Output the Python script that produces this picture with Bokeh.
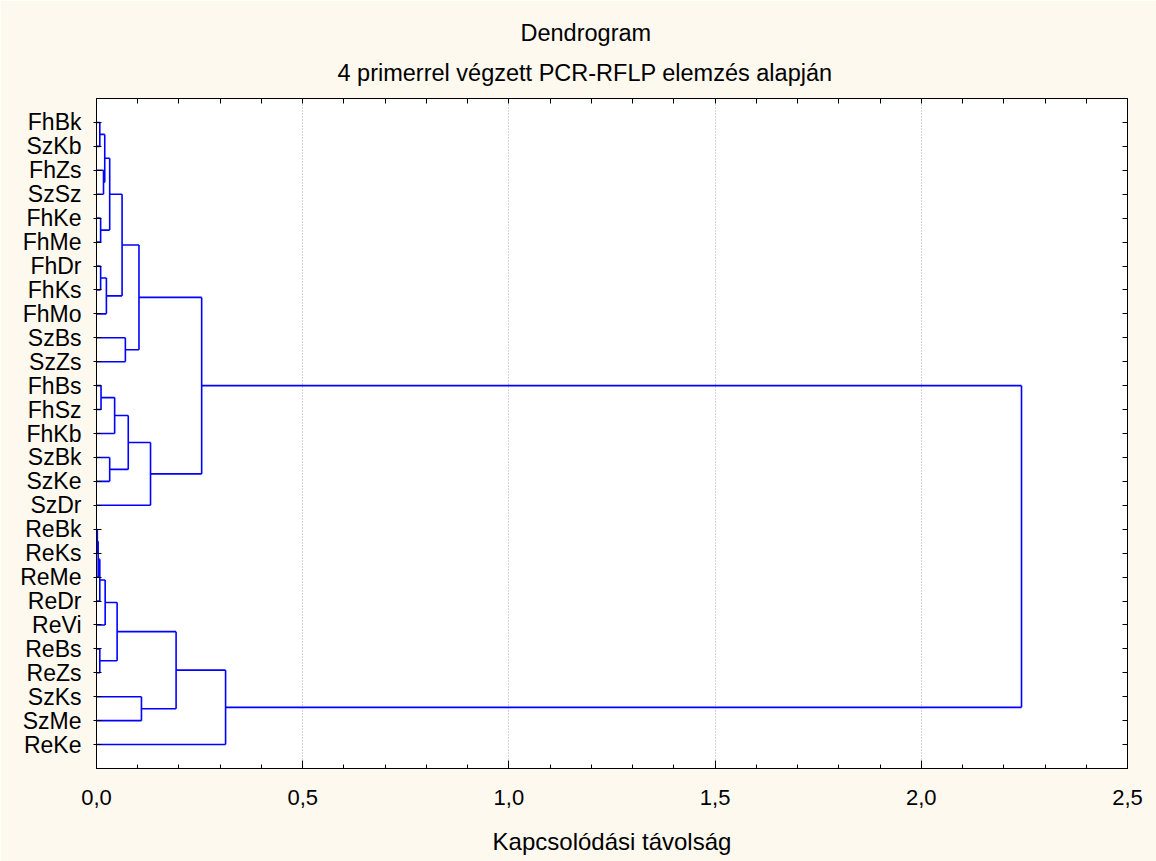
from bokeh.plotting import figure
from bokeh.models import (ColumnDataSource, Range1d, LinearAxis, FixedTicker,
                          SingleIntervalTicker, CustomJSTickFormatter, Title)
from bokeh.embed import file_html
from bokeh.resources import INLINE

# ---- data -------------------------------------------------------------
leaves = ["FhBk", "SzKb", "FhZs", "SzSz", "FhKe", "FhMe", "FhDr", "FhKs", "FhMo",
          "SzBs", "SzZs", "FhBs", "FhSz", "FhKb", "SzBk", "SzKe", "SzDr",
          "ReBk", "ReKs", "ReMe", "ReDr", "ReVi", "ReBs", "ReZs", "SzKs", "SzMe", "ReKe"]
# merges: node ids < 27 are leaves, node id 27+k is merge k
merge_left = [0, 2, 27, 4, 29, 6, 32, 31, 9, 34, 11, 37, 14, 38, 40, 36,
              17, 43, 44, 45, 22, 46, 24, 48, 50, 42]
merge_right = [1, 3, 28, 5, 30, 7, 8, 33, 10, 35, 12, 13, 15, 39, 16, 41,
               18, 19, 20, 21, 23, 47, 25, 49, 26, 51]
merge_height = [0.008, 0.017, 0.020, 0.010, 0.032, 0.010, 0.024, 0.062, 0.070, 0.103,
                0.011, 0.044, 0.032, 0.077, 0.131, 0.255,
                0.002, 0.004, 0.008, 0.021, 0.008, 0.050, 0.109, 0.193, 0.313, 2.243]
x_ticks = [0.0, 0.5, 1.0, 1.5, 2.0, 2.5]
x_tick_labels = ["0,0", "0,5", "1,0", "1,5", "2,0", "2,5"]
title_main = "Dendrogram"
title_sub = "4 primerrel végzett PCR-RFLP elemzés alapján"
x_title = "Kapcsolódási távolság"

# ---- geometry of the tree --------------------------------------------
n = len(leaves)
pos_y = {i: i + 1 for i in range(n)}
pos_x = {i: 0.0 for i in range(n)}
x0, y0, x1, y1 = [], [], [], []
for k, (a, b, h) in enumerate(zip(merge_left, merge_right, merge_height)):
    for c in (a, b):
        x0.append(pos_x[c]); y0.append(pos_y[c]); x1.append(h); y1.append(pos_y[c])
    x0.append(h); y0.append(pos_y[a]); x1.append(h); y1.append(pos_y[b])
    pos_y[n + k] = (pos_y[a] + pos_y[b]) / 2.0
    pos_x[n + k] = h
src = ColumnDataSource(dict(x0=x0, y0=y0, x1=x1, y1=y1))

# ---- figure -------------------------------------------------------------
BG = "#FDF9EF"
FONT = "Liberation Sans"
p = figure(width=1156, height=861, output_backend="svg", toolbar_location=None,
           x_range=Range1d(0, 2.5), y_range=Range1d(n + 1, 0),
           x_axis_location=None, y_axis_location=None,
           min_border_left=96, min_border_right=29, min_border_top=98, min_border_bottom=93)
p.background_fill_color = "white"
p.border_fill_color = BG
p.outline_line_color = "black"
p.outline_line_width = 1

p.segment("x0", "y0", "x1", "y1", source=src, line_color="#0000FF", line_width=1.6)

# bottom axis
xb = LinearAxis(ticker=SingleIntervalTicker(interval=0.5, num_minor_ticks=5),
                axis_label=x_title)
xb.major_label_overrides = {t: l for t, l in zip(x_ticks, x_tick_labels)}
xb.major_tick_in = 8; xb.major_tick_out = 0
xb.minor_tick_in = 4; xb.minor_tick_out = 0
xb.major_label_text_font = FONT; xb.major_label_text_font_size = "22px"
xb.major_label_text_color = "black"
xb.axis_label_text_font = FONT; xb.axis_label_text_font_size = "24px"
xb.axis_label_text_font_style = "normal"; xb.axis_label_text_color = "black"
xb.major_label_standoff = 21; xb.axis_label_standoff = 20
p.add_layout(xb, "below")

# left axis with leaf names
yl = LinearAxis(ticker=FixedTicker(ticks=list(range(1, n + 1))))
yl.major_label_overrides = {i + 1: name for i, name in enumerate(leaves)}
yl.major_tick_in = 5; yl.major_tick_out = 3
yl.minor_tick_line_color = None
yl.major_label_text_font = FONT; yl.major_label_text_font_size = "23px"
yl.major_label_text_color = "black"
yl.major_label_standoff = 12
p.add_layout(yl, "left")

# right axis (mirror ticks)
yr = LinearAxis(ticker=FixedTicker(ticks=list(range(1, n + 1))),
                formatter=CustomJSTickFormatter(code="return ''"))
yr.major_tick_in = 5; yr.major_tick_out = 0
yr.minor_tick_line_color = None
yr.major_label_standoff = 0
p.add_layout(yr, "right")

# top axis (mirror ticks)
xt = LinearAxis(ticker=SingleIntervalTicker(interval=0.1, num_minor_ticks=0),
                formatter=CustomJSTickFormatter(code="return ''"))
xt.major_tick_in = 5; xt.major_tick_out = 0
xt.minor_tick_line_color = None
xt.major_label_standoff = 0
p.add_layout(xt, "above")

# titles (left-aligned with offsets so they are centred on the whole canvas)
p.add_layout(Title(text=title_sub, align="left", text_font=FONT, text_font_size="23.5px",
                   text_font_style="normal", text_color="black", standoff=25, offset=241), "above")
p.add_layout(Title(text=title_main, align="left", text_font=FONT, text_font_size="23.5px",
                   text_font_style="normal", text_color="black", standoff=0, offset=424), "above")

# grid
p.xgrid.ticker = FixedTicker(ticks=[0.5, 1.0, 1.5, 2.0])
p.xgrid.grid_line_color = "#A8A8A8"
p.xgrid.grid_line_dash = "1 2"
p.ygrid.grid_line_color = None

open("out.html", "w").write(file_html(p, INLINE))
